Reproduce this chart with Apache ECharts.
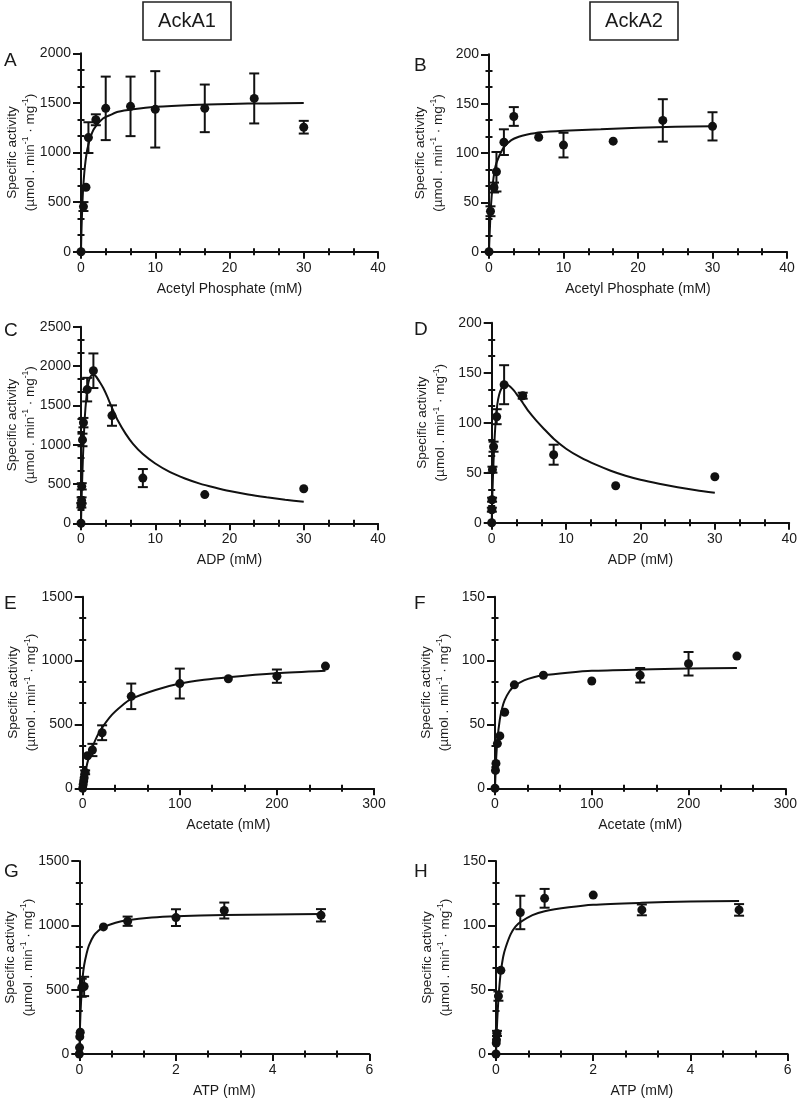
<!DOCTYPE html>
<html><head><meta charset="utf-8">
<script src="https://cdn.jsdelivr.net/npm/echarts@6/dist/echarts.min.js"></script>
<style>html,body{margin:0;padding:0;background:#fff}#chart{width:800px;height:1099px}</style>
</head><body><div id="chart"></div>
<script>
// ---------- data ----------
const columnTitles = ['AckA1', 'AckA2'];
const panelLetters = ['A', 'B', 'C', 'D', 'E', 'F', 'G', 'H'];
const xTitles = ['Acetyl Phosphate (mM)', 'Acetyl Phosphate (mM)', 'ADP (mM)', 'ADP (mM)', 'Acetate (mM)', 'Acetate (mM)', 'ATP (mM)', 'ATP (mM)'];
const xMaxes = [40, 40, 40, 40, 300, 300, 6, 6];
const xSteps = [10, 10, 10, 10, 100, 100, 2, 2];
const yMaxes = [2000, 200, 2500, 200, 1500, 150, 1500, 150];
const ySteps = [500, 50, 500, 50, 500, 50, 500, 50];

// A: AckA1, acetyl phosphate
const aX = [0, 0.33, 0.67, 1, 2, 3.33, 6.67, 10, 16.67, 23.33, 30];
const aY = [0, 455, 650, 1150, 1330, 1445, 1465, 1435, 1445, 1545, 1255];
const aErr = [0, 45, 0, 155, 55, 320, 300, 385, 240, 252, 64];
const aFitX = [0, 0.05, 0.1, 0.2, 0.3, 0.5, 0.75, 1, 1.5, 2, 3, 4, 5, 7, 10, 15, 20, 25, 30];
const aFitY = [0, 170, 300, 500, 650, 840, 990, 1080, 1200, 1265, 1345, 1380, 1410, 1435, 1460, 1480, 1490, 1495, 1500];
// B: AckA2, acetyl phosphate
const bX = [0, 0.2, 0.67, 1, 2, 3.33, 6.67, 10, 16.67, 23.33, 30];
const bY = [0, 41, 65, 81, 111, 137, 116, 108, 112, 133, 127];
const bErr = [0, 5, 5, 20, 13, 9.5, 0, 12.5, 0, 21.5, 14.3];
const bFitX = [0, 0.05, 0.1, 0.25, 0.5, 0.75, 1, 1.5, 2, 3, 4, 5, 7, 10, 15, 20, 25, 30];
const bFitY = [0, 11, 20, 45, 68, 82, 90, 99, 106, 113, 116.5, 118.5, 121, 122.5, 124, 125.5, 126.5, 127];
// C: AckA1, ADP
const cX = [0, 0.05, 0.08, 0.1, 0.2, 0.33, 0.83, 1.67, 4.17, 8.33, 16.67, 30];
const cY = [0, 230, 290, 470, 1060, 1280, 1700, 1940, 1370, 575, 365, 440];
const cErr = [0, 30, 40, 40, 80, 60, 150, 220, 130, 115, 0, 0];
const cFitX = [0, 0.1, 0.25, 0.5, 0.75, 1, 1.25, 1.5, 1.75, 2, 2.5, 3, 3.5, 4.17, 5, 6, 7, 8.33, 10, 12, 14, 16, 18, 20, 22.5, 25, 27.5, 30];
const cFitY = [0, 370, 810, 1330, 1620, 1790, 1860, 1885, 1885, 1870, 1800, 1720, 1620, 1470, 1300, 1140, 1010, 880, 760, 650, 570, 505, 455, 410, 365, 330, 300, 275];
// D: AckA2, ADP
const dX = [0, 0.02, 0.05, 0.1, 0.25, 0.67, 1.67, 4.17, 8.33, 16.67, 30];
const dY = [0, 13, 23, 53, 76, 106, 138, 127, 68, 37, 46];
const dErr = [0, 2, 2, 3, 5, 7.5, 19.5, 3, 10, 0, 0];
const dFitX = [0, 0.1, 0.25, 0.5, 0.75, 1, 1.35, 1.7, 2, 2.5, 3, 3.5, 4.17, 5, 6, 7, 8.33, 10, 12, 14, 16, 18, 20, 22.5, 25, 27.5, 30];
const dFitY = [0, 30, 62, 98, 118, 128, 135, 138.5, 138.5, 136, 132, 127, 120, 111, 102, 94, 84, 74, 65, 58, 52, 47, 43, 39, 35.5, 32.5, 30];
// E: AckA1, acetate
const eX = [0, 0.5, 1, 1.5, 2.5, 5, 10, 20, 50, 100, 150, 200, 250];
const eY = [0, 30, 57, 83, 125, 255, 300, 435, 720, 820, 858, 878, 957];
const eErr = [0, 0, 0, 0, 15, 0, 48, 58, 100, 117, 0, 52, 0];
const eFitX = [0, 2.5, 5, 10, 15, 20, 30, 40, 50, 75, 100, 125, 150, 200, 250];
const eFitY = [0, 110, 205, 320, 410, 475, 575, 645, 700, 770, 820, 850, 870, 900, 920];
// F: AckA2, acetate
const fX = [0, 0.5, 1, 2.5, 5, 10, 20, 50, 100, 150, 200, 250];
const fY = [0, 14, 19.5, 35, 41, 59.5, 81, 88.5, 84, 88.5, 97.5, 103.5];
const fErr = [0, 0, 0, 0, 0, 0, 0, 0, 0, 5.7, 9.2, 0];
const fFitX = [0, 1, 2.5, 5, 7.5, 10, 15, 20, 30, 40, 50, 75, 100, 150, 200, 250];
const fFitY = [0, 20, 38, 54, 63, 69, 76, 80, 84.5, 87, 88.5, 90.5, 92, 93, 93.7, 94.2];
// G: AckA1, ATP
const gX = [0, 0.005, 0.01, 0.02, 0.05, 0.1, 0.5, 1, 2, 3, 5];
const gY = [0, 50, 135, 170, 515, 525, 988, 1032, 1060, 1115, 1078];
const gErr = [0, 0, 0, 0, 70, 75, 0, 36, 65, 62, 48];
const gFitX = [0, 0.01, 0.025, 0.05, 0.07, 0.1, 0.15, 0.2, 0.3, 0.4, 0.5, 0.75, 1, 1.5, 2, 3, 4, 5];
const gFitY = [0, 160, 320, 500, 600, 690, 780, 845, 920, 960, 985, 1020, 1040, 1060, 1070, 1080, 1085, 1088];
// H: AckA2, ATP
const hX = [0, 0.005, 0.01, 0.02, 0.05, 0.1, 0.5, 1, 2, 3, 5];
const hY = [0, 8.5, 11, 16, 45, 65, 110, 121, 123.5, 112, 112];
const hErr = [0, 0, 0, 2, 3.6, 0, 13, 7.3, 0, 4.2, 4.5];
const hFitX = [0, 0.01, 0.025, 0.05, 0.075, 0.1, 0.15, 0.2, 0.3, 0.4, 0.5, 0.75, 1, 1.5, 2, 3, 4, 5];
const hFitY = [0, 12, 26, 43, 55, 64, 76, 83, 93, 99, 102.5, 108, 111, 114, 116, 117.5, 118.5, 119];

// ---------- layout (not data) ----------
const grids = [
  [81, 53.3, 297, 198.4], [489, 54.3, 298, 197.4],
  [81, 326.7, 297, 196.6], [491.7, 322.7, 301.6, 200],
  [82.7, 596.7, 291.3, 191.6], [495, 596.7, 292.3, 191.6],
  [79.3, 861, 290, 193.3], [496, 861, 291.7, 193.3]
];
const letterPos = [[4, 51], [414, 56], [4, 321], [414, 320], [4, 594], [414, 594], [4, 862], [414, 862]];

const P = [
  [aX, aY, aErr, aFitX, aFitY], [bX, bY, bErr, bFitX, bFitY],
  [cX, cY, cErr, cFitX, cFitY], [dX, dY, dErr, dFitX, dFitY],
  [eX, eY, eErr, eFitX, eFitY], [fX, fY, fErr, fFitX, fFitY],
  [gX, gY, gErr, gFitX, gFitY], [hX, hY, hErr, hFitX, hFitY]
];

const FONT = '"Liberation Sans", Arial, Helvetica, sans-serif';
const INK = '#111';
const TXT = '#1a1a1a';

const option = {
  animation: false,
  backgroundColor: '#fff',
  textStyle: { fontFamily: FONT },
  grid: [], xAxis: [], yAxis: [], series: [], graphic: []
};

const yName = '{t|Specific activity}\n{t|(µmol . min}{s|-1}{t| · mg}{s|-1}{t|)}';
const plain = v => String(v);

P.forEach((p, i) => {
  const [left, top, width, height] = grids[i];
  option.grid.push({ left, top, width, height, containLabel: false });
  const axLine = { show: true, onZero: false, lineStyle: { color: INK, width: 2 } };
  const minor = { show: true, splitNumber: 3, length: 3.5, lineStyle: { color: INK, width: 2 } };
  option.xAxis.push({
    type: 'value', gridIndex: i, position: 'bottom', min: 0, max: xMaxes[i], interval: xSteps[i],
    axisLine: axLine, axisTick: { show: true, length: 7, lineStyle: { color: INK, width: 2 } },
    minorTick: minor, splitLine: { show: false },
    axisLabel: { color: TXT, fontSize: 14, margin: 9, fontFamily: FONT, formatter: plain },
    name: xTitles[i], nameLocation: 'middle', nameGap: 30, nameMoveOverlap: false,
    nameTextStyle: { color: TXT, fontSize: 14, fontFamily: FONT }
  });
  option.xAxis.push({
    type: 'value', gridIndex: i, position: 'bottom', min: 0, max: xMaxes[i], interval: xSteps[i],
    axisLine: { show: false }, axisTick: { show: false, inside: true }, axisLabel: { show: false },
    minorTick: minor, splitLine: { show: false }
  });
  option.yAxis.push({
    type: 'value', gridIndex: i, position: 'left', min: 0, max: yMaxes[i], interval: ySteps[i],
    axisLine: axLine, axisTick: { show: true, length: 8, lineStyle: { color: INK, width: 2 } },
    minorTick: minor, splitLine: { show: false },
    axisLabel: { color: TXT, fontSize: 14, margin: 10, fontFamily: FONT, formatter: plain },
    name: yName, nameLocation: 'middle', nameRotate: 90, nameGap: 42, nameMoveOverlap: false,
    nameTextStyle: {
      color: TXT, fontFamily: FONT, align: 'center',
      rich: {
        t: { fontSize: 13.5, lineHeight: 18, color: TXT, fontFamily: FONT },
        s: { fontSize: 8.5, lineHeight: 9, verticalAlign: 'top', color: TXT, fontFamily: FONT }
      }
    }
  });
  option.yAxis.push({
    type: 'value', gridIndex: i, position: 'left', min: 0, max: yMaxes[i], interval: ySteps[i],
    axisLine: { show: false }, axisTick: { show: false, inside: true }, axisLabel: { show: false },
    minorTick: minor, splitLine: { show: false }
  });
  const [xs, ys, err, fx, fy] = p;
  option.series.push({
    type: 'line', xAxisIndex: 2 * i, yAxisIndex: 2 * i,
    data: fx.map((x, k) => [x, fy[k]]),
    showSymbol: false, smooth: 0.25,
    lineStyle: { color: INK, width: 2 }, z: 3
  });
  const errData = [];
  xs.forEach((x, k) => { if (err[k] > 0) errData.push([x, ys[k] - err[k], ys[k] + err[k]]); });
  option.series.push({
    type: 'custom', xAxisIndex: 2 * i, yAxisIndex: 2 * i, z: 4, clip: false,
    encode: { x: 0, y: [1, 2] },
    data: errData,
    renderItem: function (params, api) {
      const x = api.value(0);
      const lo = api.coord([x, api.value(1)]);
      const hi = api.coord([x, api.value(2)]);
      const cw = 5;
      const st = { stroke: INK, lineWidth: 2 };
      return {
        type: 'group', children: [
          { type: 'line', shape: { x1: lo[0], y1: lo[1], x2: hi[0], y2: hi[1] }, style: st },
          { type: 'line', shape: { x1: hi[0] - cw, y1: hi[1], x2: hi[0] + cw, y2: hi[1] }, style: st },
          { type: 'line', shape: { x1: lo[0] - cw, y1: lo[1], x2: lo[0] + cw, y2: lo[1] }, style: st }
        ]
      };
    }
  });
  option.series.push({
    type: 'scatter', xAxisIndex: 2 * i, yAxisIndex: 2 * i, clip: false, z: 5,
    data: xs.map((x, k) => [x, ys[k]]),
    symbol: 'circle', symbolSize: 9, itemStyle: { color: INK, opacity: 1 }
  });
  option.graphic.push({
    type: 'text', left: letterPos[i][0], top: letterPos[i][1],
    style: { text: panelLetters[i], fontSize: 19, fontFamily: FONT, fill: TXT }
  });
});

[[143, 2, 88, 38], [590, 2, 88, 38]].forEach((b, j) => {
  option.graphic.push({
    type: 'rect', shape: { x: b[0], y: b[1], width: b[2], height: b[3] },
    style: { fill: '#fff', stroke: '#222', lineWidth: 1.6 }
  });
  option.graphic.push({
    type: 'text', x: b[0] + b[2] / 2, y: b[1] + b[3] / 2,
    style: { text: columnTitles[j], fontSize: 20, fontFamily: FONT, fill: TXT, align: 'center', verticalAlign: 'middle' }
  });
});

const chart = echarts.init(document.getElementById('chart'), null, { renderer: 'canvas' });
chart.setOption(option);
</script></body></html>
